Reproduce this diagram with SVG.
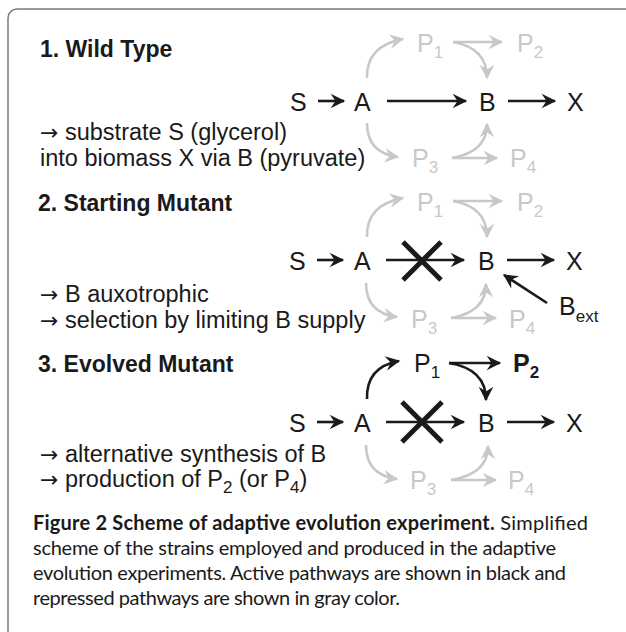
<svg xmlns="http://www.w3.org/2000/svg" width="626" height="632" viewBox="0 0 626 632">
<defs>
<style>
.lbl{font-family:"Liberation Sans",Arial,sans-serif;font-size:25px;fill:#1a1a1a}
.lblg{font-family:"Liberation Sans",Arial,sans-serif;font-size:25px;fill:#c8c8c8}
.sub{font-size:17px}
.hd{font-family:"Liberation Sans",Arial,sans-serif;font-size:23px;font-weight:bold;fill:#1a1a1a}
.tx{font-family:"Liberation Sans",Arial,sans-serif;font-size:23.5px;fill:#1a1a1a}
.ar{font-family:"DejaVu Sans",sans-serif;font-size:22px;font-weight:normal}
.cap{font-family:Lato,"Open Sans",sans-serif;font-size:20px;fill:#1a1a1a}
.k{fill:none;stroke:#1a1a1a;stroke-width:2.6;marker-end:url(#hk)}
.g{fill:none;stroke:#c8c8c8;stroke-width:2.6;marker-end:url(#hg)}
.x{stroke:#1a1a1a;stroke-width:5;fill:none}
</style>
<marker id="hk" markerUnits="userSpaceOnUse" markerWidth="17" markerHeight="17" viewBox="0 0 14 14" refX="12" refY="7" orient="auto">
<path d="M1,1 L13,7 L1,13 L5,7 Z" fill="#1a1a1a"/>
</marker>
<marker id="hg" markerUnits="userSpaceOnUse" markerWidth="17" markerHeight="17" viewBox="0 0 14 14" refX="12" refY="7" orient="auto">
<path d="M1,1 L13,7 L1,13 L5,7 Z" fill="#c8c8c8"/>
</marker>
</defs>
<rect x="8" y="9" width="650" height="650" rx="9" fill="#fff" stroke="#7a7a7a" stroke-width="1.5"/>

<!-- Section headers and notes -->
<g id="note1">
<text class="hd" x="40" y="57">1. Wild Type</text>
<text class="tx" x="40" y="140"><tspan class="ar">→</tspan> substrate S (glycerol)</text>
<text class="tx" x="40" y="166">into biomass X via B (pyruvate)</text>
</g>
<g id="note2">
<text class="hd" x="38" y="211">2. Starting Mutant</text>
<text class="tx" x="40" y="302"><tspan class="ar">→</tspan> B auxotrophic</text>
<text class="tx" x="40" y="328"><tspan class="ar">→</tspan> selection by limiting B supply</text>
</g>
<g id="note3">
<text class="hd" x="38" y="372">3. Evolved Mutant</text>
<text class="tx" x="40" y="462"><tspan class="ar">→</tspan> alternative synthesis of B</text>
<text class="tx" x="40" y="487"><tspan class="ar">→</tspan> production of P<tspan class="sub" dy="6">2</tspan><tspan dy="-6"> (or P</tspan><tspan class="sub" dy="6">4</tspan><tspan dy="-6">)</tspan></text>
</g>

<!-- Section 1 -->
<g id="wt-nodes">
<g id="wt-S"><text class="lbl" x="290" y="111">S</text></g>
<g id="wt-A"><text class="lbl" x="354" y="111">A</text></g>
<g id="wt-B"><text class="lbl" x="479" y="111">B</text></g>
<g id="wt-X"><text class="lbl" x="567" y="111">X</text></g>
<g id="wt-P1"><text class="lblg" x="417" y="52">P<tspan class="sub" dy="6">1</tspan></text></g>
<g id="wt-P2"><text class="lblg" x="517" y="52">P<tspan class="sub" dy="6">2</tspan></text></g>
<g id="wt-P3"><text class="lblg" x="412" y="167">P<tspan class="sub" dy="6">3</tspan></text></g>
<g id="wt-P4"><text class="lblg" x="510" y="167">P<tspan class="sub" dy="6">4</tspan></text></g>
</g>
<g id="wt-connectors">
<line class="k" x1="318" y1="101" x2="344" y2="101"/>
<line class="k" x1="387" y1="101" x2="466" y2="101"/>
<line class="k" x1="508" y1="101" x2="555" y2="101"/>
<path class="g" d="M367,78 Q366,46 403,39"/>
<line class="g" x1="453" y1="42" x2="502" y2="42"/>
<path class="g" d="M453,42 Q487,48 487,78"/>
<path class="g" d="M367,123 Q367,153 398,157"/>
<line class="g" x1="452" y1="158" x2="497" y2="158"/>
<path class="g" d="M452,158 Q487,152 487,124"/>
</g>

<!-- Section 2 -->
<g id="sm-nodes">
<g id="sm-S"><text class="lbl" x="289" y="270">S</text></g>
<g id="sm-A"><text class="lbl" x="354" y="270">A</text></g>
<g id="sm-B"><text class="lbl" x="478" y="270">B</text></g>
<g id="sm-X"><text class="lbl" x="566" y="270">X</text></g>
<g id="sm-Bext"><text class="lbl" x="559" y="315">B<tspan class="sub" dy="7">ext</tspan></text></g>
<g id="sm-P1"><text class="lblg" x="417" y="211">P<tspan class="sub" dy="6">1</tspan></text></g>
<g id="sm-P2"><text class="lblg" x="517" y="211">P<tspan class="sub" dy="6">2</tspan></text></g>
<g id="sm-P3"><text class="lblg" x="411" y="328">P<tspan class="sub" dy="6">3</tspan></text></g>
<g id="sm-P4"><text class="lblg" x="509" y="328">P<tspan class="sub" dy="6">4</tspan></text></g>
</g>
<g id="sm-connectors">
<line class="k" x1="317" y1="260" x2="343" y2="260"/>
<line class="k" x1="386" y1="260" x2="464" y2="260"/>
<line class="k" x1="507" y1="260" x2="554" y2="260"/>
<line class="k" x1="547" y1="303" x2="504" y2="275"/>
<path class="g" d="M367,237 Q366,205 403,198"/>
<line class="g" x1="453" y1="201" x2="502" y2="201"/>
<path class="g" d="M453,201 Q487,207 487,237"/>
<path class="g" d="M366,283 Q366,313 397,317"/>
<line class="g" x1="451" y1="318" x2="496" y2="318"/>
<path class="g" d="M451,318 Q486,312 486,284"/>
<line class="x" x1="403" y1="242" x2="441" y2="280"/>
<line class="x" x1="403" y1="280" x2="441" y2="242"/>
</g>

<!-- Section 3 -->
<g id="em-nodes">
<g id="em-S"><text class="lbl" x="289" y="432">S</text></g>
<g id="em-A"><text class="lbl" x="354" y="432">A</text></g>
<g id="em-B"><text class="lbl" x="478" y="432">B</text></g>
<g id="em-X"><text class="lbl" x="566" y="432">X</text></g>
<g id="em-P1"><text class="lbl" x="414" y="372">P<tspan class="sub" dy="6">1</tspan></text></g>
<g id="em-P2"><text class="lbl" x="513" y="372" font-weight="bold">P<tspan class="sub" dy="6">2</tspan></text></g>
<g id="em-P3"><text class="lblg" x="410" y="489">P<tspan class="sub" dy="6">3</tspan></text></g>
<g id="em-P4"><text class="lblg" x="508" y="489">P<tspan class="sub" dy="6">4</tspan></text></g>
</g>
<g id="em-connectors">
<line class="k" x1="317" y1="422" x2="343" y2="422"/>
<line class="k" x1="386" y1="422" x2="464" y2="422"/>
<line class="k" x1="507" y1="422" x2="554" y2="422"/>
<path class="k" d="M367,399 Q366,367 399,361"/>
<line class="k" x1="449" y1="363" x2="500" y2="363"/>
<path class="k" d="M449,363 Q486,369 486,400"/>
<path class="g" d="M366,445 Q366,475 397,479"/>
<line class="g" x1="451" y1="480" x2="496" y2="480"/>
<path class="g" d="M451,480 Q488,474 488,446"/>
<line class="x" x1="402" y1="402" x2="442" y2="442"/>
<line class="x" x1="402" y1="442" x2="442" y2="402"/>
</g>

<!-- Caption -->
<g id="caption">
<text class="cap" x="33" y="530" textLength="555" lengthAdjust="spacing"><tspan font-weight="bold">Figure 2 Scheme of adaptive evolution experiment.</tspan> Simplified</text>
<text class="cap" x="33" y="555" textLength="523" lengthAdjust="spacing">scheme of the strains employed and produced in the adaptive</text>
<text class="cap" x="33" y="580" textLength="533" lengthAdjust="spacing">evolution experiments. Active pathways are shown in black and</text>
<text class="cap" x="33" y="605" textLength="367" lengthAdjust="spacing">repressed pathways are shown in gray color.</text>
</g>
</svg>
